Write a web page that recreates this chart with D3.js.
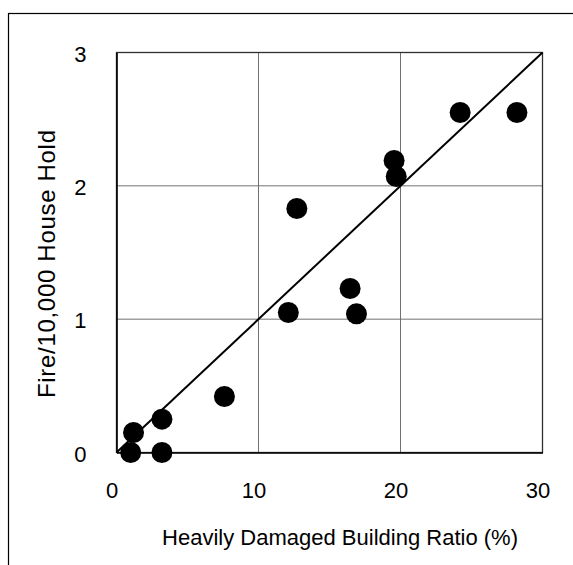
<!DOCTYPE html>
<html>
<head>
<meta charset="utf-8">
<script src="https://cdn.jsdelivr.net/npm/d3@7"></script>
<style>
  body { margin: 0; background: #fff; }
  svg text { font-family: "Liberation Sans", Arial, sans-serif; fill: #000; }
</style>
</head>
<body>
<svg id="chart" width="573" height="565"></svg>
<script>
// data
const ratio = [1.0, 1.2, 3.2, 3.2, 7.6, 12.1, 12.7, 16.45, 16.9, 19.55, 19.7, 24.2, 28.2];
const fire  = [0.0, 0.15, 0.0, 0.25, 0.42, 1.05, 1.83, 1.23, 1.04, 2.19, 2.07, 2.55, 2.55];
const xTicks = [0, 10, 20, 30];
const yTicks = [0, 1, 2, 3];
const fitLine = [[0, 0], [30, 3]];

const svg = d3.select("#chart");
const margin = { left: 116.5, top: 52.5, right: 30.5, bottom: 112.5 };
const width = 573 - margin.left - margin.right;
const height = 565 - margin.top - margin.bottom;

// outer frame (right/bottom run off the page)
svg.append("rect")
    .attr("x", 8.5).attr("y", 13.5)
    .attr("width", 700).attr("height", 700)
    .attr("fill", "none").attr("stroke", "#000").attr("stroke-width", 1.2);

const x = d3.scaleLinear().domain([0, 30]).range([0, width]);
const y = d3.scaleLinear().domain([0, 3]).range([height, 0]);

const g = svg.append("g").attr("transform", `translate(${margin.left},${margin.top})`);

// gridlines
g.selectAll(".vgrid").data(xTicks.slice(1, -1)).enter().append("line")
    .attr("x1", d => x(d)).attr("x2", d => x(d))
    .attr("y1", 0).attr("y2", height)
    .attr("stroke", "#707070").attr("stroke-width", 1);
g.selectAll(".hgrid").data(yTicks.slice(1, -1)).enter().append("line")
    .attr("x1", 0).attr("x2", width)
    .attr("y1", d => y(d)).attr("y2", d => y(d))
    .attr("stroke", "#707070").attr("stroke-width", 1);

// plot area border
g.append("rect")
    .attr("width", width).attr("height", height)
    .attr("fill", "none").attr("stroke", "#303030").attr("stroke-width", 1.3);

// axes
const xAxis = d3.axisBottom(x).tickValues(xTicks).tickFormat(d3.format("d")).tickSize(0).tickPadding(30);
const yAxis = d3.axisLeft(y).tickValues(yTicks).tickFormat(d3.format("d")).tickSize(0).tickPadding(30);

const gx = g.append("g").attr("transform", `translate(0,${height})`).call(xAxis);
gx.select(".domain").attr("stroke", "#000").attr("stroke-width", 1.6);
gx.selectAll("text").attr("font-size", 22).attr("dx", -5);

const gy = g.append("g").call(yAxis);
gy.select(".domain").attr("stroke", "#000").attr("stroke-width", 1.6);
gy.selectAll("text").attr("font-size", 22).attr("dy", "0.4em");

// 1:1 reference line
g.append("path")
    .datum(fitLine)
    .attr("d", d3.line().x(d => x(d[0])).y(d => y(d[1])))
    .attr("stroke", "#000").attr("stroke-width", 2).attr("fill", "none");

// points
g.selectAll(".dot").data(ratio).enter().append("circle")
    .attr("cx", d => x(d))
    .attr("cy", (d, i) => y(fire[i]))
    .attr("r", 10.5)
    .attr("fill", "#000");

// axis titles
svg.append("text")
    .attr("x", 518).attr("y", 545)
    .attr("text-anchor", "end").attr("font-size", 22)
    .attr("textLength", 356).attr("lengthAdjust", "spacing")
    .text("Heavily Damaged Building Ratio (%)");

svg.append("text")
    .attr("transform", "translate(55,398) rotate(-90)")
    .attr("text-anchor", "start").attr("font-size", 24)
    .attr("textLength", 268).attr("lengthAdjust", "spacing")
    .text("Fire/10,000 House Hold");
</script>
</body>
</html>
